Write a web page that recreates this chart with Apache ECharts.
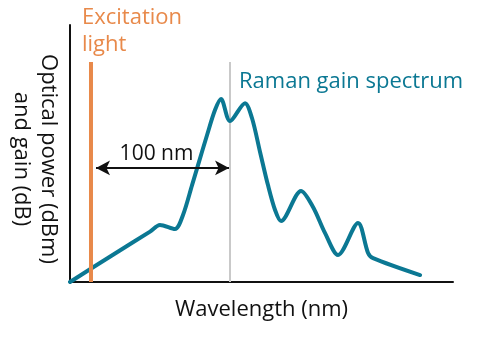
<!DOCTYPE html>
<html><head><meta charset="utf-8">
<script src="https://cdn.jsdelivr.net/npm/echarts@6/dist/echarts.min.js"></script>
<style>html,body{margin:0;padding:0;background:#fff}#c{width:480px;height:345px}</style>
</head><body><div id="c"></div>
<script>
// Wavelength offset (nm) and relative power/gain (arbitrary units 0-100)
const gainX = [0, 32.4, 57.6, 64.7, 75.5, 81.3, 87.8, 92.1, 98.6, 104.3, 108.6, 115.1, 125.9, 130.9, 136.7, 142.4, 147.5, 151.8, 166.2, 174.8, 183.4, 192.8, 207.2, 214.4, 218.0, 251.8];
const gainY = [0, 11.1, 19.6, 22.2, 20.6, 26.1, 37.7, 45.5, 57.2, 66.9, 71.2, 62.6, 69.6, 63.8, 50.6, 37.7, 28.0, 23.7, 35.4, 29.2, 19.1, 10.5, 23.0, 11.3, 9.3, 2.7];
const pumpX = 15.1;
const peakRefX = 115.1;
const lineTop = 85.6;
const arrowY = 44.4;
const arrowStart = 18.7;
const arrowEnd = 114.4;
const xMax = 275.5;

const FONT = '"Open Sans", "Noto Sans", sans-serif';
const chart = echarts.init(document.getElementById('c'), null, {renderer: 'canvas'});
chart.setOption({
  animation: false,
  grid: {left: 70, right: 27, top: 25, bottom: 63},
  xAxis: {
    type: 'value', min: 0, max: xMax,
    axisLine: {show: true, onZero: false, lineStyle: {color: '#111', width: 2}},
    axisTick: {show: false}, axisLabel: {show: false}, splitLine: {show: false},
    name: 'Wavelength (nm)', nameLocation: 'middle', nameGap: 17,
    nameTextStyle: {fontFamily: FONT, fontSize: 22, color: '#111'}
  },
  yAxis: {
    type: 'value', min: 0, max: 100,
    axisLine: {show: true, onZero: false, lineStyle: {color: '#111', width: 2}},
    axisTick: {show: false}, axisLabel: {show: false}, splitLine: {show: false}
  },
  graphic: [
    {type: 'text', x: 35, y: 159, rotation: -Math.PI / 2,
     style: {text: 'Optical power (dBm)\nand gain (dB)', fontFamily: FONT, fontSize: 22, lineHeight: 27,
             fill: '#111', align: 'center', verticalAlign: 'middle'}},
    {type: 'text', x: 82, y: 4,
     style: {text: 'Excitation\nlight', fontFamily: FONT, fontSize: 22, lineHeight: 27,
             fill: '#e8894a', align: 'left', verticalAlign: 'top'}},
    {type: 'text', x: 239, y: 71,
     style: {text: 'Raman gain spectrum', fontFamily: FONT, fontSize: 22,
             fill: '#0b7893', align: 'left', verticalAlign: 'top'}}
  ],
  series: [
    {type: 'line', data: [[peakRefX, 0], [peakRefX, lineTop]], symbol: 'none', silent: true,
     lineStyle: {color: '#c9c9c9', width: 2}, z: 1},
    {type: 'line', data: gainX.map((x, i) => [x, gainY[i]]), symbol: 'none', smooth: 0.3,
     lineStyle: {color: '#0b7893', width: 4, cap: 'round', join: 'round'}, z: 3,
     markLine: {
       silent: true, symbol: ['arrow', 'arrow'], symbolSize: [11, 14],
       lineStyle: {color: '#111', width: 2, type: 'solid'},
       label: {show: true, position: 'middle', formatter: '100 nm', fontFamily: FONT, fontSize: 21,
               color: '#111', distance: 3, offset: [-6, 0]},
       data: [[{coord: [arrowStart, arrowY]}, {coord: [arrowEnd, arrowY]}]]
     }},
    {type: 'line', data: [[pumpX, 0], [pumpX, lineTop]], symbol: 'none', silent: true,
     lineStyle: {color: '#e8894a', width: 4}, z: 4}
  ]
});
</script></body></html>
